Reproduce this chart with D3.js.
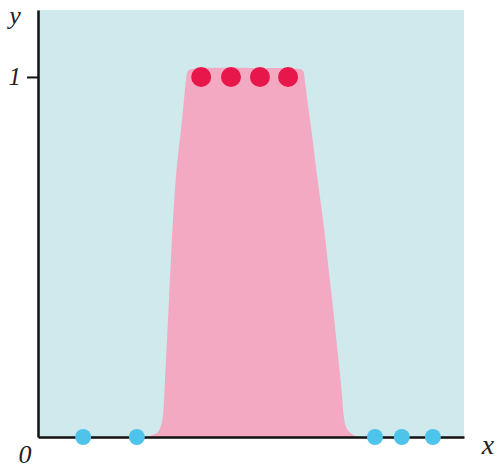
<!DOCTYPE html>
<html>
<head>
<meta charset="utf-8">
<script src="https://cdn.jsdelivr.net/npm/d3@7"></script>
<style>
  body { margin: 0; background: #fff; }
  svg { display: block; }
  .lbl { font-family: "Liberation Serif", "DejaVu Serif", serif; font-style: italic; fill: #222; }
</style>
</head>
<body>
<svg id="chart"></svg>
<script>
// Data (x in [0,10], y in [0,~1.19])
const xDomain = [0, 10];
const yDomain = [0, 1.186];

// Outline of the pink output region, traced left to right
const curveX = [2.582, 2.700, 2.817, 2.887, 2.934, 2.981, 3.075, 3.169, 3.263, 3.357, 3.427, 3.474, 3.521, 3.615,
  4.977, 6.127,
  6.221, 6.268, 6.338, 6.432, 6.549, 6.690, 6.878, 7.042, 7.136, 7.183, 7.254, 7.394, 7.512];
const curveY = [0, 0.006, 0.014, 0.031, 0.061, 0.158, 0.381, 0.603, 0.756, 0.853, 0.936, 0.992, 1.017, 1.022,
  1.025, 1.022,
  1.017, 0.986, 0.922, 0.839, 0.728, 0.603, 0.408, 0.228, 0.117, 0.053, 0.022, 0.006, 0];

// Class 1 points (red) and class 0 points (blue)
const redX = [3.83, 4.53, 5.21, 5.87];
const redY = [1, 1, 1, 1];
const blueX = [1.06, 2.32, 7.91, 8.54, 9.27];
const blueY = [0, 0, 0, 0, 0];

const yTicks = [1];

// Dimensions
const width = 499, height = 468;
const margin = { top: 10, right: 35, bottom: 31, left: 38 };

const svg = d3.select("#chart")
  .attr("width", width)
  .attr("height", height);

// Scales
const x = d3.scaleLinear().domain(xDomain).range([margin.left, width - margin.right]);
const y = d3.scaleLinear().domain(yDomain).range([height - margin.bottom, margin.top]);

// Background
svg.append("rect")
  .attr("x", x(xDomain[0]))
  .attr("y", y(yDomain[1]))
  .attr("width", x(xDomain[1]) - x(xDomain[0]))
  .attr("height", y(0) - y(yDomain[1]))
  .attr("fill", "#cfe9ed");

// Pink region
const pts = curveX.map((d, i) => ({ x: d, y: curveY[i] }));
const outline = d3.line()
  .x(d => x(d.x))
  .y(d => y(d.y))
  .curve(d3.curveCatmullRom.alpha(0.5));

svg.append("path")
  .datum(pts)
  .attr("d", d => outline(d) + "Z")
  .attr("fill", "#f4a9c2");

// Axes
svg.append("g")
  .attr("transform", `translate(0,${y(0)})`)
  .call(d3.axisBottom(x).tickValues([]).tickSizeOuter(0))
  .call(g => g.select(".domain").attr("stroke", "#111").attr("stroke-width", 2.5));

svg.append("g")
  .attr("transform", `translate(${x(0)},0)`)
  .call(d3.axisLeft(y).tickValues(yTicks).tickSize(11).tickSizeOuter(0).tickFormat(d3.format("d")))
  .call(g => g.select(".domain").attr("stroke", "#111").attr("stroke-width", 2.5))
  .call(g => g.selectAll(".tick line").attr("stroke", "#111").attr("stroke-width", 2))
  .call(g => g.selectAll(".tick text")
    .attr("x", -17)
    .attr("dy", "0.32em")
    .style("font-size", "25px")
    .style("font-family", "'Liberation Serif', serif")
    .style("font-style", "italic")
    .attr("fill", "#222"));

// Points
svg.append("g").selectAll("circle")
  .data(redX.map((d, i) => ({ x: d, y: redY[i] })))
  .join("circle")
  .attr("cx", d => x(d.x))
  .attr("cy", d => y(d.y))
  .attr("r", 10)
  .attr("fill", "#e8174b");

svg.append("g").selectAll("circle")
  .data(blueX.map((d, i) => ({ x: d, y: blueY[i] })))
  .join("circle")
  .attr("cx", d => x(d.x))
  .attr("cy", d => y(d.y))
  .attr("r", 8)
  .attr("fill", "#4ec4ea");

// Labels
svg.append("text").attr("class", "lbl")
  .attr("x", 25).attr("y", 463)
  .attr("text-anchor", "middle")
  .style("font-size", "26px")
  .text("0");

svg.append("text").attr("class", "lbl")
  .attr("x", 488).attr("y", 454)
  .attr("text-anchor", "middle")
  .style("font-size", "28px")
  .text("x");

svg.append("text").attr("class", "lbl")
  .attr("x", 15).attr("y", 24)
  .attr("text-anchor", "middle")
  .style("font-size", "26px")
  .text("y");
</script>
</body>
</html>
